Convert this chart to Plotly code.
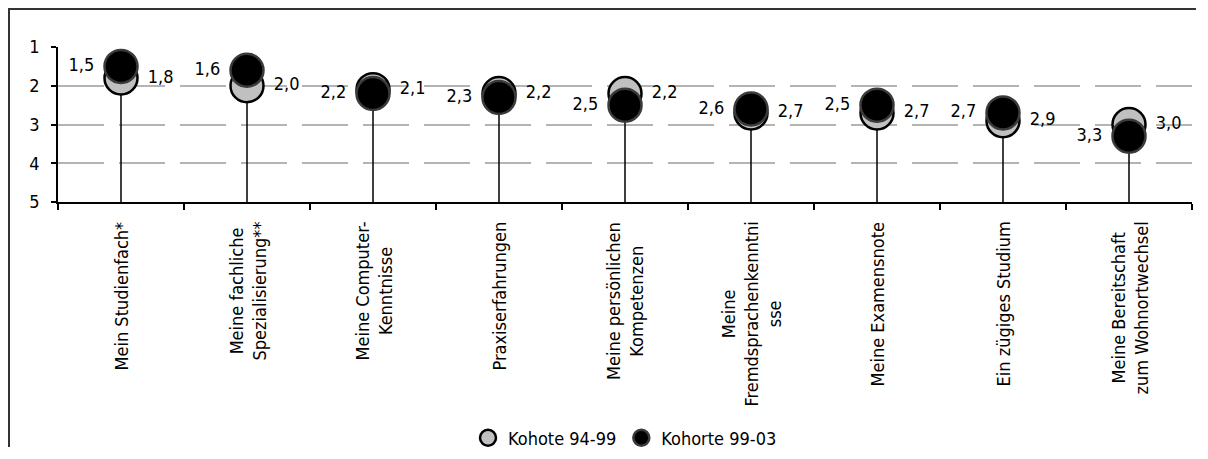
import plotly.graph_objects as go

categories = ["Mein Studienfach*", "Meine fachliche Spezialisierung**", "Meine Computer-Kenntnisse",
              "Praxiserfahrungen", "Meine persönlichen Kompetenzen", "Meine Fremdsprachenkenntnisse",
              "Meine Examensnote", "Ein zügiges Studium", "Meine Bereitschaft zum Wohnortwechsel"]
category_labels = ["Mein Studienfach*", "Meine fachliche<br>Spezialisierung**", "Meine Computer-<br>Kenntnisse",
                   "Praxiserfahrungen", "Meine persönlichen<br>Kompetenzen", "Meine<br>Fremdsprachenkenntni<br>sse",
                   "Meine Examensnote", "Ein zügiges Studium", "Meine Bereitschaft<br>zum Wohnortwechsel"]
kohorte_94_99 = [1.8, 2.0, 2.1, 2.2, 2.2, 2.7, 2.7, 2.9, 3.0]
kohorte_99_03 = [1.5, 1.6, 2.2, 2.3, 2.5, 2.6, 2.5, 2.7, 3.3]
y_ticks = [1, 2, 3, 4, 5]
series_names = ["Kohote 94-99", "Kohorte 99-03"]

FONT = "Liberation Sans Narrow, Arial Narrow, DejaVu Sans Condensed, sans-serif"
# figure sits inside the page body (8px margin)
W, H = 1192, 443
L, T = 50, 39
R = W - 1184
B = H - 194
pw, ph = W - L - R, H - T - B

def px_x(p):
    return (p - L) / pw

def px_y(p):
    return (H - B - p) / ph

# stems from axis bottom to lower marker
stem_x, stem_y = [], []
for c, a, b in zip(categories, kohorte_94_99, kohorte_99_03):
    stem_x += [c, c, None]
    stem_y += [max(y_ticks), max(a, b), None]

NB = "\u00a0"
fig = go.Figure()
fig.add_trace(go.Scatter(x=stem_x, y=stem_y, mode="lines", line=dict(color="black", width=1.5),
                         showlegend=False, hoverinfo="skip"))
fig.add_trace(go.Scatter(x=categories, y=kohorte_94_99, name=series_names[0], mode="markers+text",
                         marker=dict(size=33, color="#c0c0c0", line=dict(color="black", width=2.5)),
                         texttemplate=NB + "%{y:.1f}", textposition="middle right",
                         textfont=dict(family=FONT, size=18, color="black"), cliponaxis=False))
fig.add_trace(go.Scatter(x=categories, y=kohorte_99_03, name=series_names[1], mode="markers+text",
                         marker=dict(size=33, color="black", line=dict(color="#3a3a3a", width=2.5)),
                         texttemplate="%{y:.1f}" + NB, textposition="middle left",
                         textfont=dict(family=FONT, size=18, color="black"), cliponaxis=False))

for c, lab in zip(categories, category_labels):
    fig.add_annotation(x=c, xref="x", y=0, yref="paper", text=lab, textangle=-90,
                       xanchor="center", yanchor="top", yshift=-18, showarrow=False, align="center",
                       font=dict(family=FONT, size=18, color="black"))

# outer frame: only the top and left edges are visible in the reference
fx0, fy_top, fy_bot, fx1 = px_x(1), px_y(1), px_y(H - 4), px_x(W - 4)
fig.add_shape(type="path", xref="paper", yref="paper", layer="below",
              path=f"M {fx0},{fy_bot} L {fx0},{fy_top} L {fx1},{fy_top}",
              line=dict(color="#333333", width=2), fillcolor="rgba(0,0,0,0)")

fig.update_layout(
    width=W, height=H, margin=dict(l=L, r=R, t=T, b=B, autoexpand=False),
    paper_bgcolor="white", plot_bgcolor="rgba(0,0,0,0)", separators=",.",
    font=dict(family=FONT, size=18, color="black"),
    showlegend=True,
    legend=dict(orientation="h", x=0.5, xanchor="center", y=px_y(430), yanchor="middle",
                font=dict(family=FONT, size=18, color="black"), itemwidth=30,
                bgcolor="rgba(0,0,0,0)", traceorder="normal"),
    xaxis=dict(type="category", range=[-0.5, len(categories) - 0.5], autorange=False,
               showline=True, linecolor="black", linewidth=1.5,
               ticks="outside", ticklen=6, tickcolor="black", tickwidth=1.5, tickson="boundaries",
               showticklabels=False, showgrid=False, zeroline=False, fixedrange=True),
    yaxis=dict(range=[5, 1], autorange=False, tickvals=y_ticks, showline=True, linecolor="black", linewidth=1.5,
               ticks="outside", ticklen=5, tickcolor="black", tickwidth=1.5, ticklabelstandoff=8,
               showgrid=True, gridcolor="#b4b4b4", gridwidth=1.5, griddash="46px,15px",
               zeroline=False, tickfont=dict(family=FONT, size=18, color="black")),
)

fig.write_html("out.html")
